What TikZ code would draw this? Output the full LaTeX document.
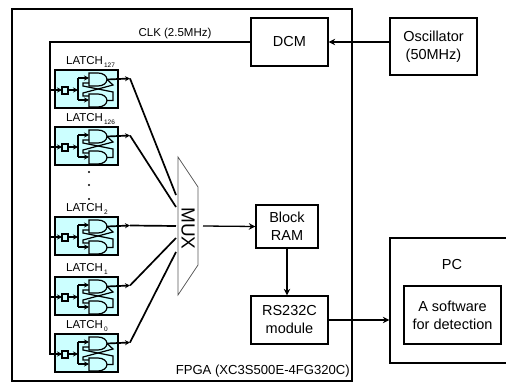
\documentclass[tikz,border=0pt]{standalone}
\usepackage{fontspec}
\setmainfont{Liberation Sans}
\usepackage{tikz}
\usetikzlibrary{arrows.meta}
\usetikzlibrary{positioning}

\definecolor{latchcyan}{RGB}{204,255,255}
\newcommand{\bigfont}{\fontsize{14.5}{18}\selectfont}
\newcommand{\smallfont}{\fontsize{11.5}{13}\selectfont}

\tikzset{
    block/.style={draw,line width=1.3pt,align=center,font=\bigfont,inner sep=0pt},
    wire/.style={line width=1.3pt},
    thickwire/.style={line width=1.7pt},
    gateline/.style={line width=1.2pt},
    tip/.style={-{Stealth[length=6.5pt,width=6.5pt]}},
    smalltip/.style={-{Stealth[length=5pt,width=5pt]}},
    latchbox/.style={draw,fill=latchcyan,line width=1.5pt,minimum width=63pt,minimum height=38pt,inner sep=0pt},
    latchcell/.pic={
        \node[latchbox] (-box) at (31.5,19) {};
        % flip-flop
        \draw[gateline] (7,17) rectangle (13,24);
        \coordinate (-in) at (7,20);
        \coordinate (-out) at (52,9.5);
        \draw[gateline,smalltip] (13,20)--(23,20);
        \draw[gateline,smalltip] (23,8)--(34,8);
        \draw[gateline,smalltip] (23,30)--(34,30);
        \draw[gateline] (23,8)--(23,30);
        % the two gates
        \draw[gateline] (34,3)--(43,3) arc (-90:90:9 and 6.5)--(34,16)--cycle;
        \draw[gateline] (34,24)--(43,24) arc (-90:90:9 and 6.5)--(34,37)--cycle;
        % feedback
        \draw[gateline] (52,9.5)--(58,15)--(28,23)--(28,26)--(34,26);
        \draw[gateline] (52,30.5)--(58,30.5)--(58,22)--(28,16)--(28,13)--(34,13);
    },
}

\begin{document}
\begin{tikzpicture}[x=1pt,y=-1pt]
    \useasboundingbox (0,0) rectangle (506,382);

    \draw[line width=2pt] (12,9) rectangle (352,381);

    \node[block,minimum width=77pt,minimum height=48pt] (dcm) at (289.5,42) {DCM};
    \node[block,minimum width=87pt,minimum height=57pt] (osc) at (433.5,46.5) {Oscillator\\(50MHz)};
    \node[block,minimum width=62pt,minimum height=43pt] (ram) at (287,226.5) {Block\\RAM};
    \node[block,minimum width=77pt,minimum height=48pt] (rs) at (289.5,320) {RS232C\\module};
    \node[block,minimum width=130pt,minimum height=125pt] (pc) at (455,300.5) {};
    \node[font=\bigfont] (pclabel) at (452,265) {PC};
    \node[block,line width=1.6pt,minimum width=97pt,minimum height=58pt] (soft) at (452.5,315) {A software\\for detection};

    \node[font=\smallfont] (clk) at (175,34) {CLK (2.5MHz)};
    \node[font=\fontsize{13.1}{16}\selectfont,anchor=east,inner sep=0pt] (fpga) at (350,371) {FPGA (XC3S500E-4FG320C)};

    % mux
    \draw[gray!70!black,line width=0.7pt] (178,157)--(198,187)--(198,265)--(178,295)--cycle;
    \node[font=\fontsize{19}{20}\selectfont,rotate=-90] (mux) at (188,228.5) {MUX};
    \coordinate (muxout) at (203,226);

    \coordinate (clktop) at (50,42);

    \foreach \nm/\ytop/\yend in {127/70/195,126/127/207,2/217/226,1/277/238,0/334/252}{
        \pic (latch\nm) at (55,\ytop) {latchcell};
        \node[font=\smallfont,anchor=west,inner sep=0pt] (label\nm) at (66,\ytop-8) {LATCH\raisebox{-2.5pt}{\fontsize{6.5}{7}\selectfont\,\nm}};
        \coordinate (knee\nm) at (130,\ytop+8.5);
        \coordinate (muxin\nm) at (176,\yend);
        \draw[thickwire,smalltip] (latch\nm-out)--(knee\nm);
        \draw[thickwire] (knee\nm)--(muxin\nm);
        \draw[thickwire,smalltip] (clktop |- latch\nm-in)--(latch\nm-in);
    }

    \draw[thickwire] (dcm.west)--(clktop)|-(latch0-in);
    \draw[thickwire,tip] (osc.west |- dcm.east)--(dcm.east);
    \draw[wire,tip] (muxout)--(ram.west);
    \draw[wire,tip] (ram.south)--(rs.north -| ram.south);
    \draw[thickwire,tip] (rs.east)--(rs.east -| pc.west);

    \foreach \ydot in {172,185,199}{
        \fill (89,\ydot) circle (1.2);
    }
\end{tikzpicture}
\end{document}
